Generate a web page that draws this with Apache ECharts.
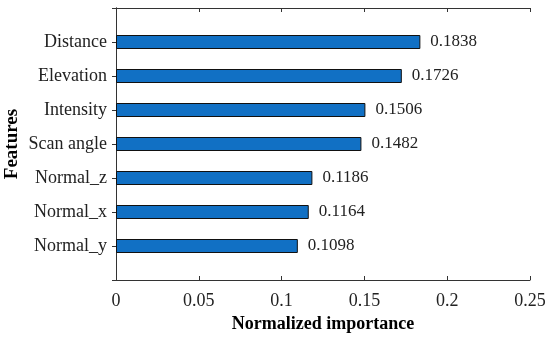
<!DOCTYPE html>
<html><head><meta charset="utf-8">
<script src="https://cdn.jsdelivr.net/npm/echarts@6/dist/echarts.min.js"></script>
<style>html,body{margin:0;padding:0;background:#fff}#c{width:550px;height:338px}</style>
</head><body><div id="c"></div>
<script>
const features = ['', 'Distance', 'Elevation', 'Intensity', 'Scan angle', 'Normal_z', 'Normal_x', 'Normal_y', ''];
const importance = [null, 0.1838, 0.1726, 0.1506, 0.1482, 0.1186, 0.1164, 0.1098, null];
const xTicks = [0, 0.05, 0.1, 0.15, 0.2, 0.25];

const font = 'Liberation Serif';
const chart = echarts.init(document.getElementById('c'), null, {renderer: 'canvas'});
const lineCol = '#333';
chart.setOption({
  animation: false,
  grid: {left: 116, right: 20, top: 8, bottom: 58, containLabel: false, outerBoundsMode: 'none'},
  xAxis: [{
    type: 'value', min: xTicks[0], max: xTicks[xTicks.length - 1], interval: 0.05,
    position: 'bottom',
    name: 'Normalized importance', nameLocation: 'middle', nameGap: 35,
    nameTextStyle: {fontFamily: font, fontSize: 18, fontWeight: 'bold', color: '#000'},
    axisLine: {show: true, lineStyle: {color: lineCol, width: 1}},
    axisTick: {show: true, inside: true, length: 4, lineStyle: {color: lineCol}},
    axisLabel: {fontFamily: font, fontSize: 18, color: '#222', margin: 12,
      formatter: v => String(+v.toFixed(2))},
    splitLine: {show: false}
  }, {
    type: 'value', min: xTicks[0], max: xTicks[xTicks.length - 1], interval: 0.05,
    position: 'top',
    axisLine: {show: true, lineStyle: {color: lineCol, width: 1}},
    axisTick: {show: true, inside: true, length: 4, lineStyle: {color: lineCol}},
    axisLabel: {show: false}, splitLine: {show: false}
  }],
  yAxis: [{
    type: 'category', data: features, inverse: true, boundaryGap: false, position: 'left',
    name: 'Features', nameLocation: 'middle', nameGap: 94, nameRotate: 90, nameMoveOverlap: false,
    nameTextStyle: {fontFamily: font, fontSize: 19, fontWeight: 'bold', color: '#000'},
    axisLine: {show: true, lineStyle: {color: lineCol, width: 1}},
    axisTick: {show: true, inside: true, length: 4, interval: 0, lineStyle: {color: lineCol}},
    axisLabel: {fontFamily: font, fontSize: 18, color: '#222', margin: 9, interval: 0},
    splitLine: {show: false}
  }, {
    type: 'category', data: features, inverse: true, boundaryGap: false, position: 'right',
    axisLine: {show: true, lineStyle: {color: lineCol, width: 1}},
    axisTick: {show: true, inside: true, length: 4, interval: 0, lineStyle: {color: lineCol}},
    axisLabel: {show: false}, splitLine: {show: false}
  }],
  series: [{
    type: 'bar', data: importance, xAxisIndex: 0, yAxisIndex: 0,
    barWidth: 14,
    itemStyle: {color: '#1170c4', borderColor: '#111', borderWidth: 1},
    label: {show: true, position: 'right', distance: 10, fontFamily: font, fontSize: 17, color: '#222',
      formatter: p => p.value.toFixed(4)}
  }]
});
</script></body></html>
